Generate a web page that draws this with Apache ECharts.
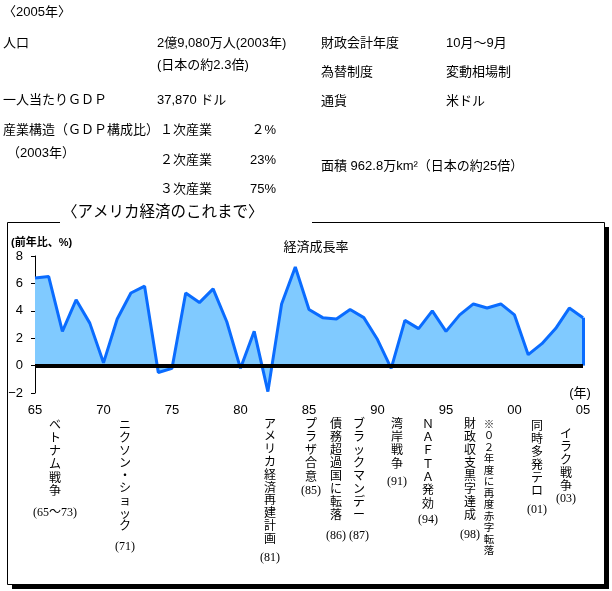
<!DOCTYPE html>
<html>
<head>
<meta charset="utf-8">
<script src="https://cdn.jsdelivr.net/npm/echarts@6/dist/echarts.min.js"></script>
<style>
  html, body { margin: 0; padding: 0; background: #fff; }
  #chart { width: 612px; height: 591px; }
</style>
</head>
<body>
<div id="chart"></div>
<script>
// 経済成長率（前年比、%）
const years = ['65', '66', '67', '68', '69', '70', '71', '72', '73', '74',
  '75', '76', '77', '78', '79', '80', '81', '82', '83', '84',
  '85', '86', '87', '88', '89', '90', '91', '92', '93', '94',
  '95', '96', '97', '98', '99', '00', '01', '02', '03', '04', '05'];
const growth = [6.4, 6.5, 2.5, 4.8, 3.1, 0.2, 3.4, 5.3, 5.8, -0.5,
  -0.2, 5.3, 4.6, 5.6, 3.2, -0.2, 2.5, -1.9, 4.5, 7.2,
  4.1, 3.5, 3.4, 4.1, 3.5, 1.9, -0.2, 3.3, 2.7, 4.0,
  2.5, 3.7, 4.5, 4.2, 4.5, 3.7, 0.8, 1.6, 2.7, 4.2, 3.5];

const eventNames = ['ベトナム戦争', 'ニクソン・ショック', 'アメリカ経済再建計画', 'プラザ合意',
  '債務超過国に転落', 'ブラックマンデー', '湾岸戦争', 'ＮＡＦＴＡ発効',
  '財政収支黒字達成', '※０２年度に再度赤字転落', '同時多発テロ', 'イラク戦争'];
const eventYears = ['(65〜73)', '(71)', '(81)', '(85)', '(86)', '(87)', '(91)', '(94)',
  '(98)', '', '(01)', '(03)'];

const infoRows = [
  ['〈2005年〉'],
  ['人口', '2億9,080万人(2003年)', '財政会計年度', '10月〜9月'],
  ['', '(日本の約2.3倍)', '為替制度', '変動相場制'],
  ['一人当たりＧＤＰ', '37,870 ドル', '通貨', '米ドル'],
  ['産業構造（ＧＤＰ構成比）', '１次産業', '２%'],
  ['（2003年）', '２次産業', '23%'],
  ['', '３次産業', '75%'],
  ['面積 962.8万km²（日本の約25倍）']
];

// layout only
const eventLayout = [
  // x, first char top, year label centre y, line height, font size
  [55, 419, 513, 13.2, 12], [125, 420, 547, 12.6, 12], [270, 418, 558, 12.8, 12],
  [311, 418, 491, 13.2, 12], [336, 418, 536, 13.1, 12], [359, 418, 536, 13.1, 12],
  [397, 418, 482, 13.3, 12], [428, 418, 520, 13.3, 12], [470, 418, 535, 13.1, 12],
  [489, 419, 0, 11.5, 10.5], [537, 420, 510, 13, 12], [566, 428, 499, 13, 12]
];
const jpFont = '"Liberation Serif", "Noto Sans CJK JP", serif';
const sansFont = '"Liberation Sans", "Noto Sans CJK JP", sans-serif';

function txt(x, y, text, extra) {
  return {
    type: 'text', x: x, y: y, silent: true,
    style: Object.assign({
      text: text, fill: '#000', font: '13px ' + sansFont,
      textAlign: 'left', textVerticalAlign: 'middle'
    }, extra || {})
  };
}

const graphics = [];
// info block
graphics.push(txt(3, 12, infoRows[0][0]));
graphics.push(txt(3, 43, infoRows[1][0]));
graphics.push(txt(157, 43, infoRows[1][1]));
graphics.push(txt(321, 43, infoRows[1][2]));
graphics.push(txt(446, 43, infoRows[1][3]));
graphics.push(txt(157, 65, infoRows[2][1]));
graphics.push(txt(321, 72, infoRows[2][2]));
graphics.push(txt(446, 72, infoRows[2][3]));
graphics.push(txt(3, 100, infoRows[3][0]));
graphics.push(txt(157, 100, infoRows[3][1]));
graphics.push(txt(321, 101, infoRows[3][2]));
graphics.push(txt(446, 101, infoRows[3][3]));
graphics.push(txt(3, 130, infoRows[4][0]));
graphics.push(txt(160, 130, infoRows[4][1]));
graphics.push(txt(276, 130, infoRows[4][2], { textAlign: 'right' }));
graphics.push(txt(7, 153, infoRows[5][0]));
graphics.push(txt(160, 160, infoRows[5][1]));
graphics.push(txt(276, 160, infoRows[5][2], { textAlign: 'right' }));
graphics.push(txt(160, 189, infoRows[6][1]));
graphics.push(txt(276, 189, infoRows[6][2], { textAlign: 'right' }));
graphics.push(txt(321, 166, infoRows[7][0]));

// frame with shadow
graphics.push({ type: 'rect', silent: true, shape: { x: 604, y: 227, width: 5, height: 362 }, style: { fill: '#000' } });
graphics.push({ type: 'rect', silent: true, shape: { x: 12, y: 584, width: 597, height: 5 }, style: { fill: '#000' } });
graphics.push({ type: 'rect', silent: true, shape: { x: 7.5, y: 222.5, width: 597, height: 362 }, style: { fill: 'none', stroke: '#000', lineWidth: 1 } });
graphics.push({ type: 'rect', silent: true, shape: { x: 60, y: 218, width: 252, height: 8 }, style: { fill: '#fff' } });
graphics.push(txt(62, 213, '〈アメリカ経済のこれまで〉', { font: '15.5px ' + sansFont }));

// axis captions
graphics.push(txt(11, 243, '(前年比、%)', { font: 'bold 11px ' + sansFont }));
graphics.push(txt(316, 247, '経済成長率', { font: '13px ' + sansFont, textAlign: 'center' }));
graphics.push(txt(580, 393, '(年)', { font: '13px ' + sansFont, textAlign: 'center' }));

// event notes (vertical)
eventNames.forEach(function (name, i) {
  const l = eventLayout[i];
  graphics.push({
    type: 'text', x: l[0], y: l[1], silent: true,
    style: {
      text: name.split('').join('\n'), fill: '#000',
      font: l[4] + 'px ' + jpFont, lineHeight: l[3],
      textAlign: 'center', textVerticalAlign: 'top'
    }
  });
  if (eventYears[i]) {
    graphics.push(txt(l[0], l[2], eventYears[i], { font: '12px ' + jpFont, textAlign: 'center' }));
  }
});

const chart = echarts.init(document.getElementById('chart'));
const last = years.length - 1;
chart.setOption({
  animation: false,
  backgroundColor: '#fff',
  grid: { left: 35, right: 29, top: 256, bottom: 198 },
  xAxis: {
    type: 'category',
    data: years,
    boundaryGap: false,
    axisLine: { show: false },
    axisTick: { show: false },
    axisLabel: {
      interval: 4, margin: 11, color: '#000', fontSize: 13,
      fontFamily: 'Liberation Sans'
    },
    splitLine: { show: false }
  },
  yAxis: {
    type: 'value',
    min: -2, max: 8, interval: 2,
    axisLine: { show: true, lineStyle: { color: '#000', width: 1 } },
    axisTick: { show: true, length: 4, lineStyle: { color: '#000' } },
    axisLabel: {
      margin: 12, color: '#000', fontSize: 13, fontFamily: 'Liberation Sans',
      formatter: function (v) { return v < 0 ? '−' + Math.abs(v) : String(v); }
    },
    splitLine: { show: false }
  },
  graphic: graphics,
  series: [{
    type: 'line',
    data: growth,
    showSymbol: false,
    lineStyle: { color: '#0a6cff', width: 3 },
    areaStyle: { color: '#80caff', opacity: 1 },
    markLine: {
      silent: true, symbol: 'none', label: { show: false },
      data: [
        [{ coord: [years[last], growth[last]], lineStyle: { color: '#0a6cff', width: 3, type: 'solid' } },
         { coord: [years[last], 0] }],
        [{ coord: [years[0], 0], lineStyle: { color: '#000', width: 4, type: 'solid' } },
         { coord: [years[last], 0] }]
      ]
    }
  }]
});
</script>
</body>
</html>
